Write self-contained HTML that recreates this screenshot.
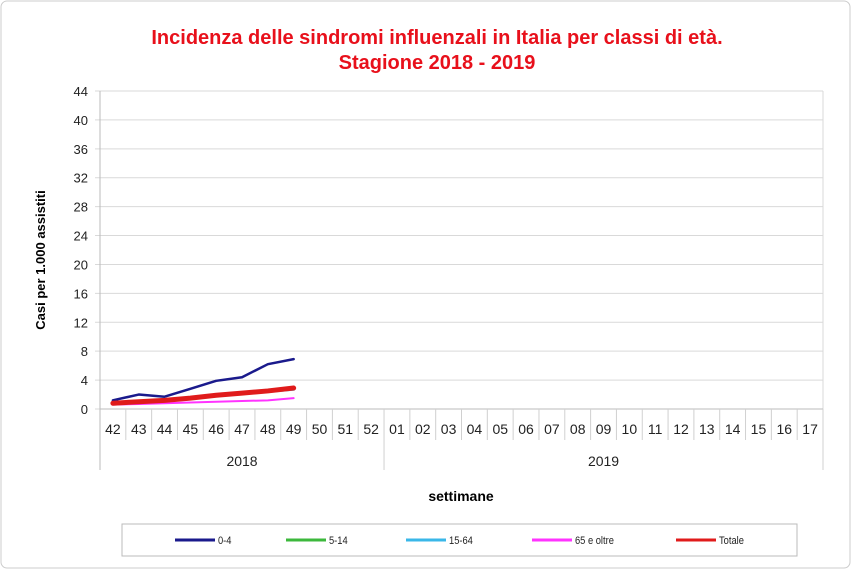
<!DOCTYPE html>
<html><head><meta charset="utf-8"><style>
body{margin:0;background:#fff;font-family:"Liberation Sans",sans-serif}
svg text{font-family:"Liberation Sans",sans-serif}
</style></head><body>
<svg id="c" width="851" height="569">
<rect x="1" y="1" width="849" height="567" rx="6" fill="#fff" stroke="#ccc"/>
<text x="437" y="44" text-anchor="middle" font-size="20" font-weight="bold" fill="#e8101b">Incidenza delle sindromi influenzali in Italia per classi di età.</text>
<text x="437" y="69" text-anchor="middle" font-size="20" font-weight="bold" fill="#e8101b">Stagione 2018 - 2019</text>
<text transform="translate(45,260) rotate(-90)" text-anchor="middle" font-size="13" font-weight="bold" fill="#000">Casi per 1.000 assistiti</text>
<text x="461" y="501" text-anchor="middle" font-size="14" font-weight="bold" fill="#000">settimane</text>
<g id="grid"></g><g id="axes"></g><g id="series"></g>
<rect x="122" y="524" width="675" height="32" fill="#fff" stroke="#bbb"/>
<g id="legend"></g>
</svg>
<script>
const categories=["42","43","44","45","46","47","48","49","50","51","52","01","02","03","04","05","06","07","08","09","10","11","12","13","14","15","16","17"];
const yTicks=[0,4,8,12,16,20,24,28,32,36,40,44];
const seriesNames=["0-4","5-14","15-64","65 e oltre","Totale"];
const seriesColors=["#1a1a8c","#3cb83c","#3ab7e8","#ff33ff","#e01b1b"];
const seriesWidths=[2.5,2.5,2.5,2,5];
const s04=[1.2,2.0,1.7,2.8,3.9,4.4,6.2,6.9];
const s514=[0.7,0.9,1.1,1.5,1.9,2.2,2.6,2.9];
const s1564=[0.7,0.9,1.1,1.4,1.8,2.1,2.4,2.7];
const s65=[0.6,0.7,0.8,0.9,1.0,1.1,1.2,1.5];
const sTot=[0.8,1.0,1.2,1.5,1.9,2.2,2.5,2.9];
const seriesData=[s04,s514,s1564,s65,sTot];
const years=["2018","2019"];
const X0=100,X1=823,Y0=409,Y1=91,YMAX=44;
const cw=(X1-X0)/categories.length;
const x=i=>X0+cw*(i+0.5);
const y=v=>Y0-(v/YMAX)*(Y0-Y1);
const NS="http://www.w3.org/2000/svg";
function mk(t,a,p){const e=document.createElementNS(NS,t);for(const k in a)e.setAttribute(k,a[k]);p.appendChild(e);return e;}
const grid=document.getElementById('grid'),axes=document.getElementById('axes'),ser=document.getElementById('series'),leg=document.getElementById('legend');
yTicks.forEach(v=>{
 const l=mk('line',{x1:X0-5,x2:X1,y1:y(v),y2:y(v),stroke:'#d9d9d9'},grid);
 
 
 const t=mk('text',{x:88,y:y(v)+5,'text-anchor':'end','font-size':13,fill:'#222'},axes);t.textContent=v;
 
 
});
mk('line',{x1:X1,x2:X1,y1:Y1,y2:Y0,stroke:'#d9d9d9'},grid);
mk('line',{x1:X0,x2:X0,y1:Y1,y2:470,stroke:'#bbb'},axes);
mk('line',{x1:X0,x2:X1,y1:Y0,y2:Y0,stroke:'#bbb'},axes);
categories.forEach((c,i)=>{
 const bx=X0+cw*(i+1);
 const big=(i===10||i===27);
 mk('line',{x1:bx,x2:bx,y1:Y0,y2:big?470:440,stroke:'#d0d0d0'},axes);
 const t=mk('text',{x:x(i),y:434,'text-anchor':'middle','font-size':14,fill:'#222'},axes);t.textContent=c;
 
 
});
years.forEach((yr,k)=>{
 const cx=k===0?X0+cw*5.5:X0+cw*(11+8.5);
 const t=mk('text',{x:cx,y:466,'text-anchor':'middle','font-size':14,fill:'#222'},axes);t.textContent=yr;
 
 
});
[1,2,3,0,4].forEach(si=>{
 const d=seriesData[si].map((v,i)=>(i?'L':'M')+x(i)+','+y(v)).join(' ');
 const p=mk('path',{d:d,fill:'none',stroke:seriesColors[si],'stroke-width':seriesWidths[si],'stroke-linejoin':'round','stroke-linecap':'round'},ser);
 
 
});
const lxs=[175,286,406,532,676];
seriesNames.forEach((n,i)=>{
 mk('line',{x1:lxs[i],x2:lxs[i]+40,y1:540,y2:540,stroke:seriesColors[i],'stroke-width':3},leg);
 const t=mk('text',{x:lxs[i]+43,y:544,'font-size':11,fill:'#222',transform:'translate('+(lxs[i]+43)+',0) scale(0.85,1) translate('+(-(lxs[i]+43))+',0)'},leg);t.textContent=n;
 
 
});
</script>
</body></html>
